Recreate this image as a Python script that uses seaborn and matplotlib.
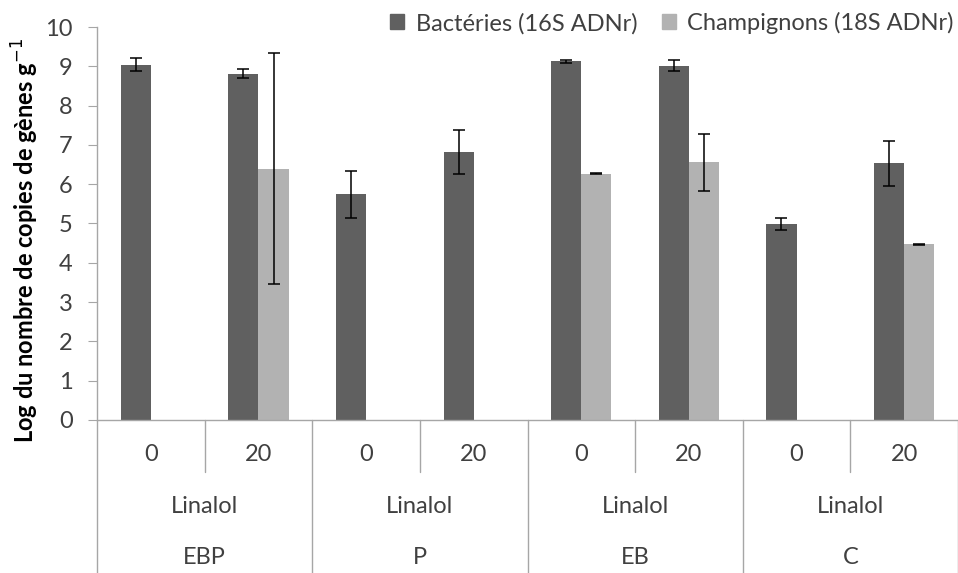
import numpy as np
import pandas as pd
import seaborn as sns
import matplotlib.pyplot as plt
from matplotlib.patches import Patch

# data
groups = ["EBP", "P", "EB", "C"]
doses = ["0", "20"]
bacteria = [9.04, 8.81, 5.74, 6.82, 9.13, 9.01, 4.99, 6.53]
bacteria_err = [0.17, 0.11, 0.59, 0.56, 0.04, 0.14, 0.15, 0.57]
fungi = [np.nan, 6.39, np.nan, np.nan, 6.27, 6.56, np.nan, 4.47]
fungi_err = [np.nan, 2.94, np.nan, np.nan, 0.01, 0.73, np.nan, 0.01]
series = ["Bactéries (16S ADNr)", "Champignons (18S ADNr)"]
colors = ["#606060", "#b2b2b2"]

sns.set_style("white")
plt.rcParams['font.family'] = ['Lato', 'DejaVu Sans']
txt = "#404040"
grid = "#a6a6a6"
fs = 17

conds = [g + " " + d for g in groups for d in doses]
df = pd.DataFrame({
    "cond": conds * 2,
    "serie": [series[0]] * 8 + [series[1]] * 8,
    "val": bacteria + [0 if np.isnan(v) else v for v in fungi],
})

fig = plt.figure(figsize=(9.58, 5.73), dpi=100)
ax = fig.add_axes([97 / 958, 1 - 420 / 573, 861 / 958, 393 / 573])
sns.barplot(data=df, x="cond", y="val", hue="serie", order=conds, hue_order=series,
            palette=colors, width=0.56, errorbar=None, linewidth=0, ax=ax, legend=False)

# error bars on top of the bars
for cont, err in zip(ax.containers, [bacteria_err, fungi_err]):
    xs = [p.get_x() + p.get_width() / 2 for p in cont]
    ys = [p.get_height() for p in cont]
    ax.errorbar(xs, ys, yerr=err, fmt="none", ecolor="black", elinewidth=1.1,
                capsize=4.5, capthick=1.1)

ax.set_xlim(-0.5, 7.5)
ax.set_ylim(0, 10)
ax.set_yticks(range(0, 11))
ax.tick_params(axis="y", length=6.5, color=grid, labelsize=fs, labelcolor=txt, pad=11, left=True)
ax.set_xticks([])
ax.set_xlabel("")
ax.set_ylabel("")
for s in ["top", "right"]:
    ax.spines[s].set_visible(False)
for s in ["left", "bottom"]:
    ax.spines[s].set_color(grid)
    ax.spines[s].set_linewidth(1)

# multi-level category axis
tr = ax.get_xaxis_transform()
for i in range(8):
    ax.text(i, -0.089, doses[i % 2], transform=tr, ha="center", va="center",
            fontsize=fs, color=txt)
for j, g in enumerate(groups):
    ax.text(2 * j + 0.5, -0.221, "Linalol", transform=tr, ha="center", va="center",
            fontsize=fs, color=txt)
    ax.text(2 * j + 0.5, -0.349, g, transform=tr, ha="center", va="center",
            fontsize=fs, color=txt)
for k in range(5):
    ax.plot([2 * k - 0.5] * 2, [0, -0.4], transform=tr, color=grid, lw=1, clip_on=False)
for k in range(4):
    ax.plot([2 * k + 0.5] * 2, [0, -0.132], transform=tr, color=grid, lw=1, clip_on=False)

fig.text(25 / 958, 1 - 240 / 573, "Log du nombre de copies de gènes g$^{-1}$",
         rotation=90, ha="center", va="center", fontsize=fs, fontweight="bold", color="black")

handles = [Patch(color=c, label=s) for c, s in zip(colors, series)]
fig.legend(handles=handles, loc="upper right", bbox_to_anchor=(1.018, 1.016), ncol=2,
           frameon=False, fontsize=fs, handlelength=0.6, handleheight=0.6,
           handletextpad=0.5, columnspacing=1.0, labelcolor=txt)

fig.savefig("out.png", dpi=100)
